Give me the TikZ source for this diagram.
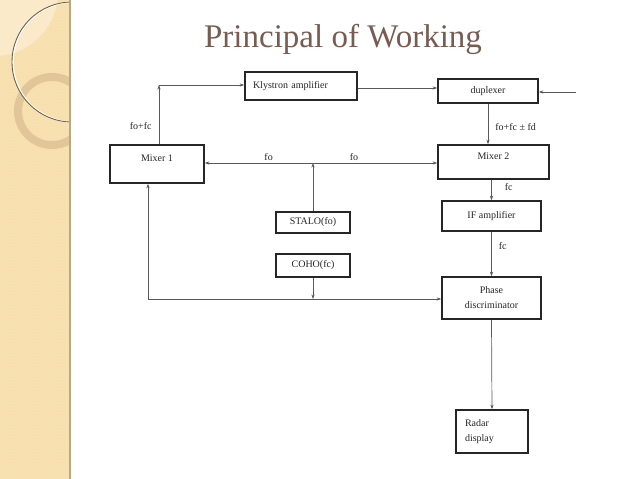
\documentclass[tikz,border=0pt]{standalone}
\usepackage{fontspec}
\setmainfont{Liberation Serif}
\usetikzlibrary{arrows.meta}
\usetikzlibrary{positioning}
\usetikzlibrary{patterns}
\definecolor{bandtan}{RGB}{247,224,174}
\definecolor{bandlight}{RGB}{251,237,208}
\definecolor{ringtan}{RGB}{222,196,150}
\definecolor{titlebrown}{RGB}{120,92,82}
\tikzset{block/.style={draw=black!85, line width=1.6pt, fill=white, text=black!85, text centered, inner sep=0pt, font=\fontsize{10}{15}\selectfont}}
\tikzset{connect/.style={draw=black!65, line width=0.7pt, >={Stealth[length=4.5pt,width=3.2pt]}}}
\tikzset{sig/.style={text=black!85, inner sep=2pt, font=\fontsize{10}{12}\selectfont}}

\begin{document}
\begin{tikzpicture}[x=1pt,y=-1pt]

\useasboundingbox (0,0) rectangle (638,479);
\fill[white] (0,0) rectangle (638,479);

%side band
\fill[bandtan] (0,0) rectangle (70,479);
\fill[pattern=dots, pattern color=white, opacity=0.35] (0,0) rectangle (70,479);
\begin{scope}
\clip (0,0) rectangle (70,479);
\fill[bandlight, opacity=0.8] (-6,-8) circle (64);
\draw[ringtan, line width=8pt, opacity=0.9] (52,111) circle (34);
\draw[white, line width=1.6pt] (73,62) circle (60);
\draw[black!50!ringtan, line width=0.9pt] (72,62) circle (60);
\end{scope}
\draw[black!25!bandtan, line width=1.5pt] (70,0) -- (70,479);

%title
\node[anchor=base, text=titlebrown, font=\fontsize{33}{36}\selectfont] (title) at (343,47) {Principal of Working};

%sub blocks
\node[block,minimum width=112pt,minimum height=28pt,inner xsep=8pt,text width=96pt,align=left] (klystron) at (301,86) {Klystron amplifier};
\node[block,minimum width=100pt,minimum height=24pt] (duplexer) at (488,91) {duplexer};
\node[block,minimum width=94pt,minimum height=38pt,label={[sig,yshift=6pt]center:Mixer 1}] (mixer1) at (157,164) {};
\node[block,minimum width=111pt,minimum height=34pt,label={[sig,yshift=6pt]center:Mixer 2}] (mixer2) at (493.5,162) {};
\node[block,minimum width=99pt,minimum height=30pt] (ifamp) at (491.5,216) {IF amplifier};
\node[block,minimum width=74pt,minimum height=21pt] (stalo) at (313,222.5) {STALO(fo)};
\node[block,minimum width=74pt,minimum height=23pt] (coho) at (313,265.5) {COHO(fc)};
\node[block,minimum width=99pt,minimum height=42pt,align=center] (phase) at (491.5,298) {Phase\\discriminator};
\node[block,minimum width=72pt,minimum height=43pt,inner xsep=9pt,text width=54pt,align=left] (radar) at (492,431.5) {Radar\\display};

%junctions
\coordinate (klyturn) at (159,85);
\coordinate (antenna) at (576,92);
\coordinate (lojunc) at (313,163);
\coordinate (cohojunc) at (313,299);
\coordinate (refleft) at (148,299);

%transmit path
\path[connect,->] (klyturn |- mixer1.north) -- node[sig,left=5pt,pos=0.3]{fo+fc} (klyturn);
\path[connect,->] (klyturn) -- (klyturn -| klystron.west);
\path[connect,->] ([yshift=-2pt]klystron.east) -- ([yshift=-2pt]klystron.east -| duplexer.west);
\path[connect,->] (antenna) -- (antenna -| duplexer.east);

%receive path
\path[connect,->] (duplexer.south) -- node[sig,right=5pt,pos=0.57]{fo+fc ± fd} (duplexer.south |- mixer2.north);
\path[connect,->] (ifamp.north |- mixer2.south) -- node[sig,right=11pt,pos=0.35]{fc} (ifamp.north);
\path[connect,->] (ifamp.south) -- node[sig,right=5pt,pos=0.33]{fc} (phase.north);
\path[connect,->] (phase.south) -- (radar.north);

%stalo
\path[connect,->] (stalo.north) -- (lojunc);
\path[connect,->] (lojunc) -- node[sig,above,pos=0.41]{fo} (lojunc -| mixer1.east);
\path[connect,->] (lojunc) -- node[sig,above,pos=0.33]{fo} (lojunc -| mixer2.west);

%coho
\path[connect,->] (coho.south) -- (cohojunc);
\path[connect,->] (refleft) -- (refleft -| phase.west);
\path[connect,->] (refleft) -- (refleft |- mixer1.south);

\end{tikzpicture}
\end{document}
